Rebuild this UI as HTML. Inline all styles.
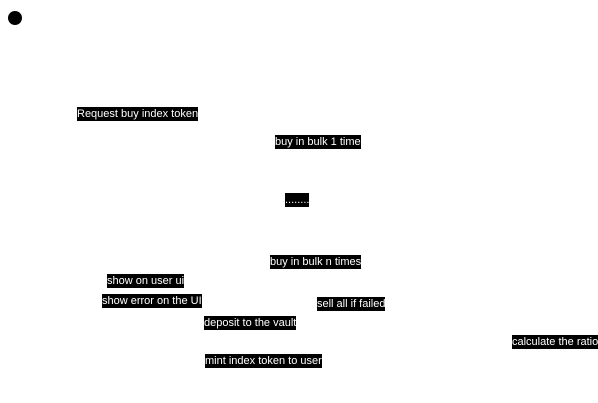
<!DOCTYPE html>
<html><head><style>
body{margin:0;width:598px;height:403px;background:#fff;position:relative;overflow:hidden;font-family:"Liberation Sans",sans-serif;}
.l{position:absolute;background:#000;color:#fff;font-size:11px;line-height:14px;height:14px;white-space:nowrap;padding:0;}
.c{position:absolute;left:8px;top:11px;width:14px;height:14px;border-radius:50%;background:#000;}
</style></head><body>
<div class="c"></div>
<div class="l" style="left:77px;top:107px">Request buy index token</div>
<div class="l" style="left:275px;top:135px">buy in bulk 1 time</div>
<div class="l" style="left:285px;top:193px">........</div>
<div class="l" style="left:270px;top:255px">buy in bulk n times</div>
<div class="l" style="left:107px;top:274px">show on user ui</div>
<div class="l" style="left:102px;top:294px">show error on the UI</div>
<div class="l" style="left:317px;top:297px">sell all if failed</div>
<div class="l" style="left:204px;top:316px">deposit to the vault</div>
<div class="l" style="left:512px;top:335px">calculate the ratio</div>
<div class="l" style="left:205px;top:354px">mint index token to user</div>
</body></html>
